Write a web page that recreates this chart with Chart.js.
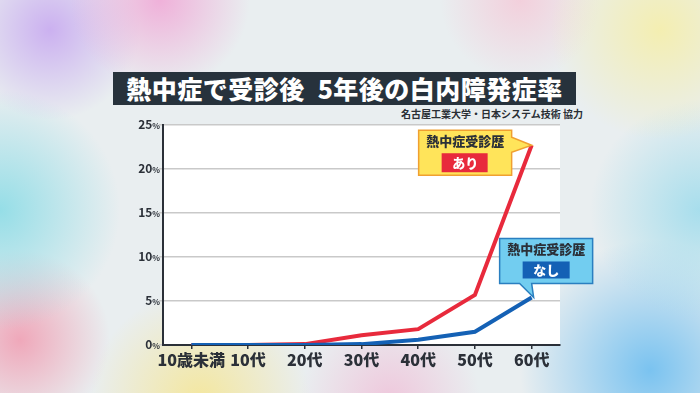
<!DOCTYPE html>
<html>
<head>
<meta charset="utf-8">
<script src="https://cdn.jsdelivr.net/npm/chart.js@4/dist/chart.umd.min.js"></script>
<style>
  html, body { margin:0; padding:0; }
  body {
    width:700px; height:393px; overflow:hidden; position:relative;
    font-family:"Noto Sans CJK JP", sans-serif;
    background:
      radial-gradient(circle at 160px 0px, rgba(240,170,215,.9) 0, rgba(240,170,215,0) 90px),
      radial-gradient(circle at 50px 30px, rgba(200,170,240,.9) 0, rgba(200,170,240,0) 90px),
      radial-gradient(circle at 0px 210px, rgba(140,220,230,.9) 0, rgba(140,220,230,0) 120px),
      radial-gradient(circle at 20px 340px, rgba(240,160,180,.9) 0, rgba(240,160,180,0) 90px),
      radial-gradient(circle at 200px 400px, rgba(245,230,150,.9) 0, rgba(245,230,150,0) 110px),
      radial-gradient(circle at 390px 400px, rgba(240,190,215,.8) 0, rgba(240,190,215,0) 90px),
      radial-gradient(circle at 660px 30px, rgba(245,238,170,.9) 0, rgba(245,238,170,0) 110px),
      radial-gradient(circle at 520px 0px, rgba(245,200,215,.8) 0, rgba(245,200,215,0) 80px),
      radial-gradient(circle at 700px 210px, rgba(160,220,236,.9) 0, rgba(160,220,236,0) 110px),
      radial-gradient(circle at 650px 370px, rgba(110,190,240,.9) 0, rgba(110,190,240,0) 130px),
      #e9eef0;
  }
  #title {
    position:absolute; left:113px; top:72px; width:463px; height:33px;
    background:#27323c; color:#fff; font-weight:900; font-size:25px;
    line-height:33px; text-align:center; letter-spacing:0.5px; white-space:nowrap;
  }
  #credit {
    position:absolute; right:117px; top:106px; font-size:10px; font-weight:700;
    color:#2a2f35;
  }
  #wrap { position:absolute; left:0; top:0; width:700px; height:393px; }
</style>
</head>
<body>
<div id="title">熱中症で受診後&ensp;5年後の白内障発症率</div>
<div id="credit">名古屋工業大学・日本システム技術 協力</div>
<div id="wrap"><canvas id="c"></canvas></div>
<script>
const AGES = ['10歳未満','10代','20代','30代','40代','50代','60代'];
const WITH_HISTORY = [0, 0, 0.1, 1.1, 1.8, 5.7, 22.7];
const NO_HISTORY = [0, 0, 0, 0.1, 0.6, 1.5, 5.4];
const Y_TICKS = [0, 5, 10, 15, 20, 25];

const C = { red:'#e82a3c', blue:'#1461b5', ink:'#2b3038', grid:'#c9c9c9' };
const FONT = '"Noto Sans CJK JP"';

// white plot panel behind the lines
const panel = {
  id:'panel',
  beforeDraw(chart) {
    const a = chart.chartArea, ctx = chart.ctx;
    ctx.save();
    ctx.fillStyle = '#fff';
    ctx.fillRect(a.left, a.top, a.right - a.left, a.bottom - a.top);
    ctx.restore();
  }
};

// y labels with a small % sign
const yLabels = {
  id:'yLabels',
  afterDraw(chart) {
    const ctx = chart.ctx, y = chart.scales.y;
    ctx.save();
    ctx.fillStyle = C.ink;
    ctx.textBaseline = 'alphabetic';
    ctx.textAlign = 'right';
    Y_TICKS.forEach(v => {
      const py = y.getPixelForValue(v) + 4;
      ctx.font = 'bold 8px ' + FONT;
      ctx.fillText('%', 160, py);
      const w = ctx.measureText('%').width;
      ctx.font = 'bold 12px ' + FONT;
      ctx.fillText(String(v), 160 - w, py);
    });
    ctx.restore();
  }
};

// speech-bubble labels next to the last points
const callouts = {
  id:'callouts',
  afterDatasetsDraw(chart) {
    const ctx = chart.ctx;
    const pRed = chart.getDatasetMeta(1).data[6];
    const pBlue = chart.getDatasetMeta(0).data[6];
    ctx.save();
    ctx.textAlign = 'center';
    ctx.textBaseline = 'middle';

    // あり
    let bx = pRed.x - 113, by = pRed.y - 15, bw = 93, bh = 45;
    ctx.fillStyle = '#ffe45a';
    ctx.strokeStyle = '#f0a030';
    ctx.lineWidth = 1.5;
    ctx.beginPath();
    ctx.moveTo(bx, by);
    ctx.lineTo(bx + bw, by);
    ctx.lineTo(bx + bw, by + 7);
    ctx.lineTo(pRed.x, pRed.y);
    ctx.lineTo(bx + bw, by + 22);
    ctx.lineTo(bx + bw, by + bh);
    ctx.lineTo(bx, by + bh);
    ctx.closePath();
    ctx.fill(); ctx.stroke();
    ctx.fillStyle = C.ink;
    ctx.font = '900 13px ' + FONT;
    ctx.fillText('熱中症受診歴', bx + bw / 2, by + 11);
    ctx.fillStyle = C.red;
    ctx.fillRect(bx + 23, by + 23, 46, 19);
    ctx.fillStyle = '#fff';
    ctx.fillText('あり', bx + bw / 2, by + 32.5);

    // なし
    bx = pBlue.x - 32; bw = 93; bh = 45; by = pBlue.y - 14 - bh;
    ctx.fillStyle = '#72cdf0';
    ctx.strokeStyle = '#2a7fc0';
    ctx.beginPath();
    ctx.moveTo(bx, by);
    ctx.lineTo(bx + bw, by);
    ctx.lineTo(bx + bw, by + bh);
    ctx.lineTo(bx + 32, by + bh);
    ctx.lineTo(pBlue.x + 2, pBlue.y);
    ctx.lineTo(bx + 20, by + bh);
    ctx.lineTo(bx, by + bh);
    ctx.closePath();
    ctx.fill(); ctx.stroke();
    ctx.fillStyle = C.ink;
    ctx.fillText('熱中症受診歴', bx + bw / 2, by + 11);
    ctx.fillStyle = C.blue;
    ctx.fillRect(bx + 23, by + 23, 47, 17);
    ctx.fillStyle = '#fff';
    ctx.fillText('なし', bx + bw / 2, by + 31.5);
    ctx.restore();
  }
};

new Chart(document.getElementById('c'), {
  type:'line',
  data:{
    labels: AGES,
    datasets:[
      { label:'なし', data:NO_HISTORY, borderColor:C.blue, borderWidth:4, pointRadius:0, tension:0, order:1 },
      { label:'あり', data:WITH_HISTORY, borderColor:C.red, borderWidth:4, pointRadius:0, tension:0, order:2 }
    ]
  },
  options:{
    responsive:true, maintainAspectRatio:false, animation:false,
    layout:{ padding:{ top:125, right:140, left:0, bottom:0 } },
    plugins:{ legend:{ display:false }, tooltip:{ enabled:false } },
    scales:{
      x:{
        offset:true,
        grid:{ display:true, drawOnChartArea:false, offset:false, tickLength:4, color:C.ink, lineWidth:1.5 },
        border:{ color:C.ink, width:2 },
        ticks:{ color:C.ink, font:{ size:16, weight:'900', family:FONT }, padding:1, maxRotation:0, autoSkip:false },
        afterFit(s) { s.height = 48; }
      },
      y:{
        min:0, max:25,
        afterBuildTicks(s) { s.ticks = Y_TICKS.map(v => ({ value:v })); },
        grid:{ color:C.grid, lineWidth:1.5, tickLength:4 },
        border:{ color:C.ink, width:2 },
        ticks:{ color:'rgba(0,0,0,0)', font:{ size:12, weight:'bold', family:FONT }, padding:1, callback:v => v + '%' },
        afterFit(s) { s.width = 163; }
      }
    }
  },
  plugins:[panel, yLabels, callouts]
});
</script>
</body>
</html>
